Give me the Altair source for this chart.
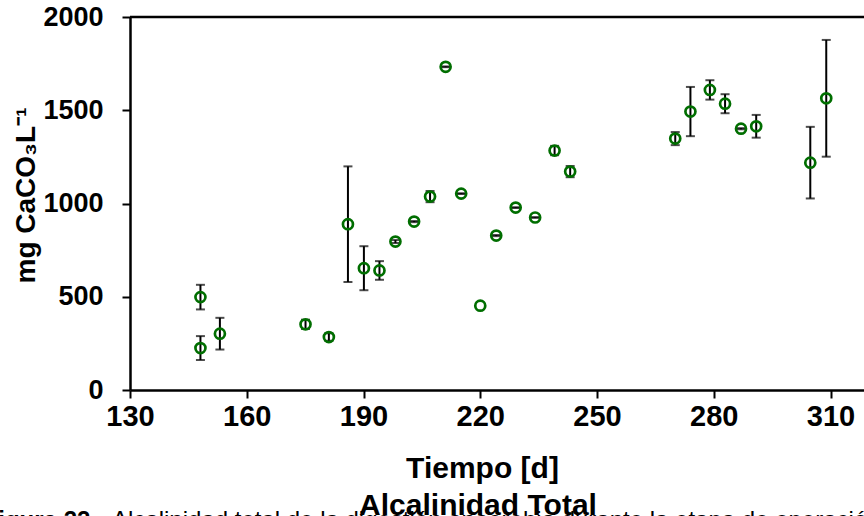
import altair as alt
import pandas as pd

# ---- data ----
dias = [148.1, 148.1, 153.1, 175.1, 181.1, 186.0, 190.1, 194.1, 198.2, 203.0,
        207.1, 211.1, 215.1, 220.0, 224.1, 229.1, 234.1, 239.1, 243.1, 270.1,
        274.0, 279.0, 282.9, 287.0, 290.9, 304.8, 308.9]
alcalinidad = [498, 225, 302, 352, 284, 889, 653, 641, 796, 903,
               1037, 1733, 1053, 452, 828, 978, 925, 1284, 1171, 1348,
               1493, 1609, 1535, 1401, 1414, 1219, 1564]
error = [66, 64, 85, 25, 20, 310, 118, 50, 8, 3,
         30, 2, 2, 0, 3, 2, 2, 25, 30, 35,
         132, 52, 51, 3, 61, 192, 313]

ticks_x = [130, 160, 190, 220, 250, 280, 310]
ticks_y = [0, 500, 1000, 1500, 2000]
x_title = "Tiempo [d]"
y_title = "mg CaCO₃L⁻¹"
chart_title = ["Alcalinidad Total"]
caption_num = ["Figura 22."]
caption_text = ["Alcalinidad total de la digestión anaerobia durante la etapa de operación de"]

df = pd.DataFrame({"dia": dias, "valor": alcalinidad, "err": error})

W, H = 734, 373
GREEN = "#006e00"

xscale = alt.Scale(domain=[130, 318.6], nice=False, zero=False)
yscale = alt.Scale(domain=[0, 2000], nice=False)

xaxis = alt.Axis(values=ticks_x, title=x_title, format="d", labelFontSize=29, labelPadding=4,
                 labelFlush=False, labelOverlap=False,
                 titleFontSize=30, titleX=352, titleY=87, titleBaseline="alphabetic",
                 titleAnchor="start", titleAlign="center")
yaxis = alt.Axis(values=ticks_y, title=y_title, format="d", labelFontSize=27, labelPadding=19,
                 labelFlush=False, labelOverlap=False,
                 titleFontSize=28, titleX=-104, titleY=178, titleAngle=270,
                 titleBaseline="middle", titleAlign="center", titleAnchor="start")

base = alt.Chart(df).transform_calculate(
    lo="datum.valor - datum.err", hi="datum.valor + datum.err"
).transform_filter("datum.err > 0")

bars = base.mark_rule(color="black", strokeWidth=2).encode(
    x=alt.X("dia:Q", scale=xscale, axis=xaxis),
    y=alt.Y("lo:Q", scale=yscale, axis=yaxis),
    y2="hi:Q",
)
caps_lo = base.mark_tick(color="black", orient="horizontal", size=9, thickness=2).encode(
    x=alt.X("dia:Q", scale=xscale, axis=xaxis),
    y=alt.Y("lo:Q", scale=yscale, axis=yaxis),
)
caps_hi = base.mark_tick(color="black", orient="horizontal", size=9, thickness=2).encode(
    x=alt.X("dia:Q", scale=xscale, axis=xaxis),
    y=alt.Y("hi:Q", scale=yscale, axis=yaxis),
)
points = alt.Chart(df).mark_point(shape="circle", filled=False, size=100,
                                  strokeWidth=2.7, color=GREEN, opacity=1).encode(
    x=alt.X("dia:Q", scale=xscale, axis=xaxis),
    y=alt.Y("valor:Q", scale=yscale, axis=yaxis),
)

top_line = alt.Chart(pd.DataFrame({"a": [0]})).mark_rule(color="black", strokeWidth=2.5).encode(
    x=alt.value(0), x2=alt.value(W), y=alt.value(0)
)

title_txt = alt.Chart(pd.DataFrame({"t": chart_title})).mark_text(
    font="Liberation Sans", fontSize=30, fontWeight="bold", align="center",
    baseline="alphabetic", color="black"
).encode(text="t:N", x=alt.value(348), y=alt.value(498))

cap_num = alt.Chart(pd.DataFrame({"t": caption_num})).mark_text(
    font="Liberation Sans", fontSize=24, fontWeight="bold", align="right",
    baseline="alphabetic", color="black"
).encode(text="t:N", x=alt.value(-33), y=alt.value(511))

cap_txt = alt.Chart(pd.DataFrame({"t": caption_text})).mark_text(
    font="Liberation Sans", fontSize=24, align="left",
    baseline="alphabetic", color="black"
).encode(text="t:N", x=alt.value(-18), y=alt.value(511))

chart = alt.layer(bars, caps_lo, caps_hi, points, top_line, title_txt, cap_num, cap_txt).properties(
    width=W, height=H,
    autosize=alt.AutoSizeParams(type="none"),
    padding={"left": 130, "top": 17, "right": 0, "bottom": 126},
    background="white",
).configure_view(stroke=None).configure_axis(
    grid=False, domainColor="black", domainWidth=2.5, tickColor="black",
    tickWidth=2, tickSize=8, labelColor="black", titleColor="black",
    labelFont="Liberation Sans", titleFont="Liberation Sans",
    labelFontWeight="bold", titleFontWeight="bold",
)

chart.save("out.html", embed_options={"renderer": "svg", "actions": False})
